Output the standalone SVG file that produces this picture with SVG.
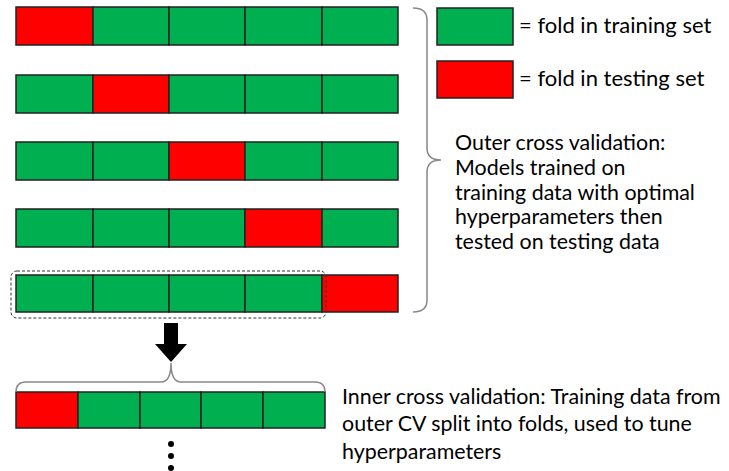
<svg xmlns="http://www.w3.org/2000/svg" width="729" height="471" viewBox="0 0 729 471">
<style>
.g{fill:#00B050;stroke:#222;stroke-width:1.5}
.r{fill:#FF0000;stroke:#222;stroke-width:1.5}
.t{font-family:Lato,"Liberation Sans",sans-serif;font-size:21.4px;fill:#000}
.lg{font-size:22px}
.br{fill:none;stroke:#888;stroke-width:1.5}
</style>
<rect width="729" height="471" fill="#fff"/>
<g id="outer-fold-1">
<rect class="r" x="16" y="7" width="77" height="38"/><rect class="g" x="93" y="7" width="76" height="38"/><rect class="g" x="169" y="7" width="76" height="38"/><rect class="g" x="245" y="7" width="77" height="38"/><rect class="g" x="322" y="7" width="76" height="38"/>
</g>
<g id="outer-fold-2">
<rect class="g" x="16" y="75" width="77" height="38"/><rect class="r" x="93" y="75" width="76" height="38"/><rect class="g" x="169" y="75" width="76" height="38"/><rect class="g" x="245" y="75" width="77" height="38"/><rect class="g" x="322" y="75" width="76" height="38"/>
</g>
<g id="outer-fold-3">
<rect class="g" x="16" y="142" width="77" height="38"/><rect class="g" x="93" y="142" width="76" height="38"/><rect class="r" x="169" y="142" width="76" height="38"/><rect class="g" x="245" y="142" width="77" height="38"/><rect class="g" x="322" y="142" width="76" height="38"/>
</g>
<g id="outer-fold-4">
<rect class="g" x="16" y="209" width="77" height="38"/><rect class="g" x="93" y="209" width="76" height="38"/><rect class="g" x="169" y="209" width="76" height="38"/><rect class="r" x="245" y="209" width="77" height="38"/><rect class="g" x="322" y="209" width="76" height="38"/>
</g>
<g id="outer-fold-5">
<rect class="g" x="16" y="275" width="77" height="37"/><rect class="g" x="93" y="275" width="76" height="37"/><rect class="g" x="169" y="275" width="76" height="37"/><rect class="g" x="245" y="275" width="77" height="37"/><rect class="r" x="322" y="275" width="76" height="37"/>
</g>
<g id="training-selection">
<rect x="11" y="271" width="315" height="47" rx="6" fill="none" stroke="#333" stroke-width="1" stroke-dasharray="3,2"/>
</g>
<g id="legend">
<rect class="g" x="437" y="8" width="76" height="37"/>
<text class="t lg" x="519" y="33">= fold in training set</text>
<rect class="r" x="437" y="61" width="76" height="37"/>
<text class="t lg" x="519" y="86">= fold in testing set</text>
</g>
<g id="outer-label">
<text class="t"><tspan x="455" y="150">Outer cross validation:</tspan><tspan x="455" y="175">Models trained on</tspan><tspan x="455" y="200">training data with optimal</tspan><tspan x="455" y="224">hyperparameters then</tspan><tspan x="455" y="249">tested on testing data</tspan></text>
</g>
<g id="inner-fold">
<rect class="r" x="16" y="392" width="62" height="36"/><rect class="g" x="78" y="392" width="62" height="36"/><rect class="g" x="140" y="392" width="61" height="36"/><rect class="g" x="201" y="392" width="62" height="36"/><rect class="g" x="263" y="392" width="62" height="36"/>
</g>
<g id="inner-label">
<text class="t"><tspan x="342" y="404">Inner cross validation: Training data from</tspan><tspan x="342" y="431">outer CV split into folds, used to tune</tspan><tspan x="342" y="459">hyperparameters</tspan></text>
</g>
<g id="ellipsis" fill="#000">
<circle cx="171" cy="444" r="3"/><circle cx="171" cy="456" r="3"/><circle cx="171" cy="468" r="3"/>
</g>
<g id="connectors">
<path class="br" d="M413,8 Q427,8 427,20 L427,148 Q427,160 441,160 Q427,160 427,172 L427,300 Q427,312 413,312"/>
<path d="M164,323 L178,323 L178,344 L187,344 L171,362 L155,344 L164,344 Z" fill="#000"/>
<path class="br" d="M16,392 Q16,382 26,382 L161,382 Q171,382 171,363 Q171,382 181,382 L315,382 Q325,382 325,392"/>
</g>
</svg>
